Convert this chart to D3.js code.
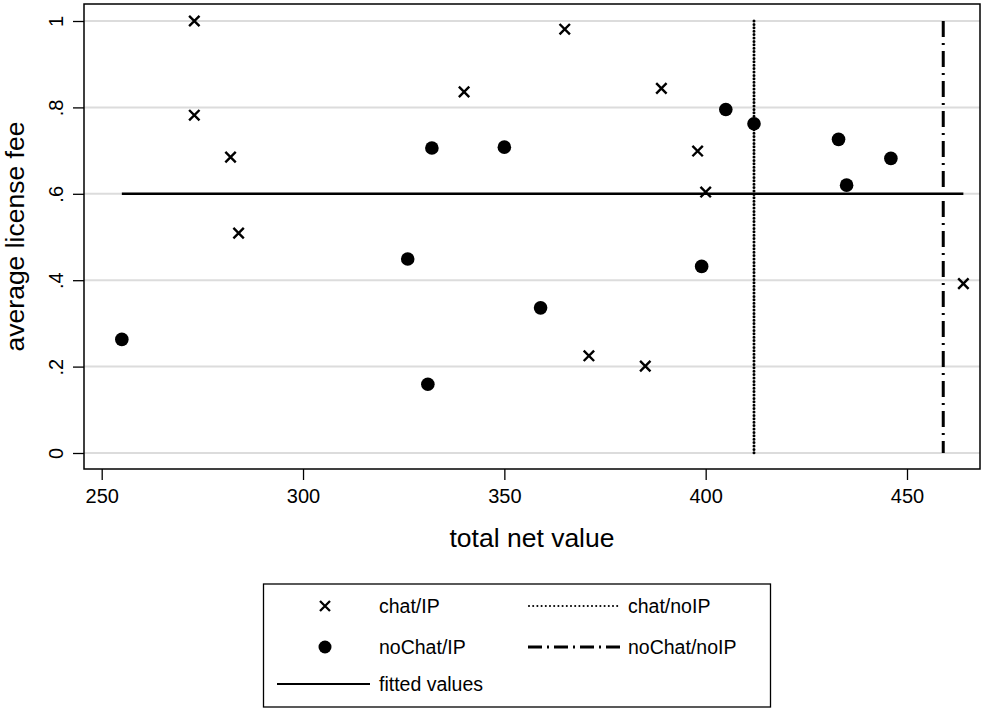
<!DOCTYPE html>
<html><head><meta charset="utf-8">
<script src="https://cdn.jsdelivr.net/npm/d3@7"></script>
<style>body{margin:0;background:#fff}svg{display:block;font-family:"Liberation Sans",Arial,sans-serif}</style>
</head><body><svg id="c" width="981" height="709"></svg>
<script>
const chatIP_x = [273, 273, 282, 284, 340, 365, 389, 398, 400, 371, 385, 464];
const chatIP_y = [1.0, 0.782, 0.685, 0.509, 0.836, 0.981, 0.844, 0.699, 0.604, 0.225, 0.201, 0.392];
const noChatIP_x = [255, 326, 331, 332, 350, 359, 399, 405, 412, 433, 435, 446];
const noChatIP_y = [0.263, 0.449, 0.159, 0.706, 0.708, 0.336, 0.432, 0.795, 0.762, 0.726, 0.620, 0.682];
const chatNoIP_x = 412;
const noChatNoIP_x = 459;
const fitted_x = [255, 464];
const fitted_y = [0.6, 0.6];
const vline_y = [0, 1];
const xTicks = [250, 300, 350, 400, 450];
const yTicks = [0, 0.2, 0.4, 0.6, 0.8, 1];
const yTickLabels = ["0", ".2", ".4", ".6", ".8", "1"];
const legendItems = ["chat/IP", "noChat/IP", "fitted values", "chat/noIP", "noChat/noIP"];

const svg = d3.select("#c");
const F = {l: 84, r: 980, t: 4, b: 469};
const x = d3.scaleLinear().domain([250, 450]).range([101.7, 907]);
const y = d3.scaleLinear().domain([0, 1]).range([453, 21]);

// gridlines
svg.append("g").selectAll("line").data(yTicks).join("line")
  .attr("x1", F.l).attr("x2", F.r).attr("y1", d => y(d)).attr("y2", d => y(d))
  .attr("stroke", "#dcdcdc").attr("stroke-width", 2);

// axes
const xAxis = d3.axisBottom(x).tickValues(xTicks).tickSize(11).tickPadding(9).tickFormat(d3.format("d"));
const gx = svg.append("g").attr("transform", `translate(0,${F.b})`).call(xAxis);
gx.select(".domain").remove();
gx.selectAll("line").attr("stroke", "#000").attr("stroke-width", 1.3);
gx.selectAll("text").attr("font-size", 20).attr("fill", "#000").attr("font-family", "Liberation Sans, Arial, sans-serif");

const yAxis = d3.axisLeft(y).tickValues(yTicks).tickSize(11).tickFormat(d => yTickLabels[yTicks.indexOf(d)]);
const gy = svg.append("g").attr("transform", `translate(${F.l},0)`).call(yAxis);
gy.select(".domain").remove();
gy.selectAll("line").attr("stroke", "#000").attr("stroke-width", 1.3);
gy.selectAll("text").attr("font-size", 20).attr("fill", "#000").attr("font-family", "Liberation Sans, Arial, sans-serif")
  .attr("text-anchor", "middle").attr("dy", null).attr("x", 0).attr("y", 0)
  .attr("transform", "translate(-21,0) rotate(-90)");

// frame
svg.append("rect").attr("x", F.l).attr("y", F.t).attr("width", F.r - F.l).attr("height", F.b - F.t)
  .attr("fill", "none").attr("stroke", "#000").attr("stroke-width", 1.5);

// fitted line
svg.append("line").attr("x1", x(fitted_x[0])).attr("x2", x(fitted_x[1]))
  .attr("y1", y(fitted_y[0])).attr("y2", y(fitted_y[1]))
  .attr("stroke", "#000").attr("stroke-width", 2.4);

// vertical lines
svg.append("line").attr("x1", x(chatNoIP_x)).attr("x2", x(chatNoIP_x))
  .attr("y1", y(vline_y[1])).attr("y2", y(vline_y[0]))
  .attr("stroke", "#000").attr("stroke-width", 3).attr("stroke-linecap", "round").attr("stroke-dasharray", "0,3.4");
svg.append("line").attr("x1", x(noChatNoIP_x)).attr("x2", x(noChatNoIP_x))
  .attr("y1", y(vline_y[1])).attr("y2", y(vline_y[0]))
  .attr("stroke", "#000").attr("stroke-width", 3).attr("stroke-dasharray", "16,6,2,6");

// markers
function xMark(g, cx, cy, s, w) {
  g.append("path").attr("d", `M${cx - s},${cy - s}L${cx + s},${cy + s}M${cx - s},${cy + s}L${cx + s},${cy - s}`)
    .attr("stroke", "#000").attr("stroke-width", w).attr("fill", "none");
}
const gp = svg.append("g");
chatIP_x.forEach((v, i) => xMark(gp, x(v), y(chatIP_y[i]), 5.2, 2.4));
gp.selectAll("circle").data(noChatIP_x).join("circle")
  .attr("cx", d => x(d)).attr("cy", (d, i) => y(noChatIP_y[i])).attr("r", 6.8).attr("fill", "#000");

// titles
svg.append("text").attr("x", (F.l + F.r) / 2).attr("y", 547).attr("text-anchor", "middle")
  .attr("font-size", 26.5).text("total net value");
svg.append("text").attr("transform", `translate(24,${(F.t + F.b) / 2}) rotate(-90)`).attr("text-anchor", "middle")
  .attr("font-size", 26.5).text("average license fee");

// legend
const L = svg.append("g");
L.append("rect").attr("x", 263.5).attr("y", 584).attr("width", 507).attr("height", 123)
  .attr("fill", "#fff").attr("stroke", "#000").attr("stroke-width", 1.3);
const rows = [606, 647, 684];
xMark(L, 325, rows[0], 5, 2.3);
L.append("circle").attr("cx", 325).attr("cy", rows[1]).attr("r", 6.5).attr("fill", "#000");
L.append("line").attr("x1", 277).attr("x2", 370).attr("y1", rows[2]).attr("y2", rows[2]).attr("stroke", "#000").attr("stroke-width", 2.2);
L.append("line").attr("x1", 529).attr("x2", 621).attr("y1", rows[0]).attr("y2", rows[0])
  .attr("stroke", "#000").attr("stroke-width", 2.1).attr("stroke-linecap", "round").attr("stroke-dasharray", "0,4.2");
L.append("line").attr("x1", 528).attr("x2", 622).attr("y1", rows[1]).attr("y2", rows[1])
  .attr("stroke", "#000").attr("stroke-width", 2.8).attr("stroke-dasharray", "14,5,2,5");
const lt = [[379, rows[0]], [379, rows[1]], [379, rows[2]], [628, rows[0]], [628, rows[1]]];
L.selectAll("text").data(legendItems).join("text")
  .attr("x", (d, i) => lt[i][0]).attr("y", (d, i) => lt[i][1]).attr("dy", "0.35em")
  .attr("font-size", 19.5).text(d => d);
</script></body></html>
